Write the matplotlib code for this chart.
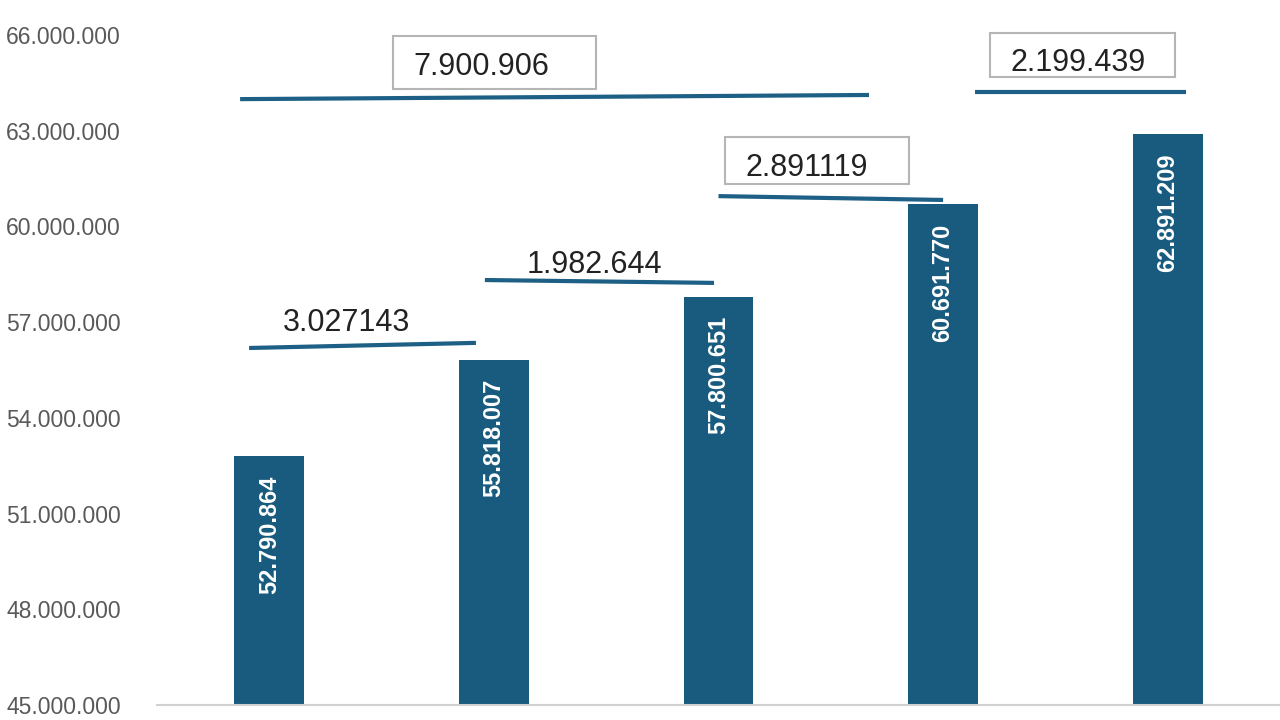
import matplotlib
matplotlib.use('Agg')
import matplotlib.pyplot as plt
from matplotlib.patches import Rectangle
from matplotlib.ticker import FuncFormatter

plt.rcParams['font.family'] = ['Liberation Sans', 'DejaVu Sans']

# data
periods = ['1', '2', '3', '4', '5']
values = [52790864, 55818007, 57800651, 60691770, 62891209]
yticks = [45000000, 48000000, 51000000, 54000000, 57000000, 60000000, 63000000, 66000000]

# difference notes: label, line x span, line y (left, right), text pos, box or not
notes = [
    ('7.900.906', (-0.13, 2.67), (63.99e6, 64.12e6), (0.64, 65.01e6), (0.549, 1.456, 64.31e6, 65.97e6)),
    ('3.027143', (-0.09, 0.92), (56.19e6, 56.35e6), (0.06, 56.97e6), None),
    ('1.982.644', (0.96, 1.98), (58.32e6, 58.23e6), (1.144, 58.79e6), None),
    ('2.891119', (2.00, 3.00), (60.95e6, 60.83e6), (2.122, 61.83e6), (2.029, 2.847, 61.33e6, 62.80e6)),
    ('2.199.439', (3.14, 4.08), (64.21e6, 64.21e6), (3.30, 65.12e6), (3.207, 4.033, 64.68e6, 66.06e6)),
]

bar_color = '#185b7f'
line_color = '#1d5f85'


def dots(v, pos=None):
    return f'{int(v):,}'.replace(',', '.')


fig = plt.figure(figsize=(12.8, 7.2), dpi=100)
ax = fig.add_axes([157 / 1280, 15 / 720, 1123 / 1280, 670 / 720])

x = range(len(values))
ax.bar(x, values, width=0.31, color=bar_color, zorder=2)
for xi, v in zip(x, values):
    ax.text(xi, v - 0.6e6, dots(v), rotation=90, ha='center', va='top',
            color='white', fontsize=17, fontweight='bold', zorder=3)

for label, (x0, x1), (y0, y1), (tx, ty), box in notes:
    ax.plot([x0, x1], [y0, y1], color=line_color, lw=3, solid_capstyle='butt',
            clip_on=False, zorder=3)
    ax.text(tx, ty, label, ha='left', va='center', fontsize=22, color='#222222',
            clip_on=False, zorder=4)
    if box:
        bx0, bx1, by0, by1 = box
        ax.add_patch(Rectangle((bx0, by0), bx1 - bx0, by1 - by0, fill=False,
                               edgecolor='#b5b5b5', lw=1.5, clip_on=False, zorder=3))

ax.set_xlim(-0.5, 4.5)
ax.set_ylim(45000000, 66000000)
ax.set_yticks(yticks)
ax.yaxis.set_major_formatter(FuncFormatter(dots))
ax.set_xticks([])
ax.tick_params(axis='y', length=0, pad=26, labelsize=16.5, labelcolor='#595959')
for s in ['top', 'right', 'left']:
    ax.spines[s].set_visible(False)
ax.spines['bottom'].set_color('#d0d0d0')
ax.spines['bottom'].set_linewidth(1.5)

fig.savefig('out.png', dpi=100)
